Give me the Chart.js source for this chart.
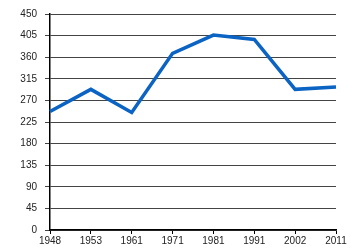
<!DOCTYPE html>
<html>
<head>
<meta charset="utf-8">
<script src="https://cdn.jsdelivr.net/npm/chart.js@4/dist/chart.umd.min.js"></script>
<style>
  html, body { margin: 0; padding: 0; background: #fff; }
  #wrap { width: 350px; height: 250px; }
</style>
</head>
<body>
<div id="wrap"><canvas id="chart" width="350" height="250"></canvas></div>
<script>
// data
const years = ['1948', '1953', '1961', '1971', '1981', '1991', '2002', '2011'];
const values = [247, 293, 245, 368, 406, 397, 293, 298];
const yTicks = [0, 45, 90, 135, 180, 225, 270, 315, 360, 405, 450];

const ctx = document.getElementById('chart').getContext('2d');
new Chart(ctx, {
    type: 'line',
    data: {
        labels: years,
        datasets: [{
            data: values,
            borderColor: '#0b64c3',
            borderWidth: 3.5,
            pointRadius: 0,
            tension: 0,
            fill: false
        }]
    },
    options: {
        responsive: false,
        animation: false,
        layout: { padding: { left: 0, right: 14, top: 11, bottom: 0 } },
        plugins: { legend: { display: false }, tooltip: { enabled: false } },
        scales: {
            x: {
                type: 'category',
                offset: false,
                grid: { drawOnChartArea: false, drawTicks: true, tickLength: 4, color: '#000' },
                border: { color: '#000', width: 1.5 },
                ticks: { color: '#222', font: { family: 'Liberation Sans', size: 10 }, padding: 1, maxRotation: 0, autoSkip: false },
                afterFit: (s) => { s.height = 20; }
            },
            y: {
                min: 0,
                max: 450,
                afterBuildTicks: (s) => { s.ticks = yTicks.map(v => ({ value: v })); },
                grid: { color: '#444', lineWidth: 1, tickLength: 5 },
                border: { color: '#000', width: 1.5 },
                ticks: { color: '#222', font: { family: 'Liberation Sans', size: 10 }, padding: 8 },
                afterFit: (s) => { s.width = 50; }
            }
        }
    }
});
</script>
</body>
</html>
